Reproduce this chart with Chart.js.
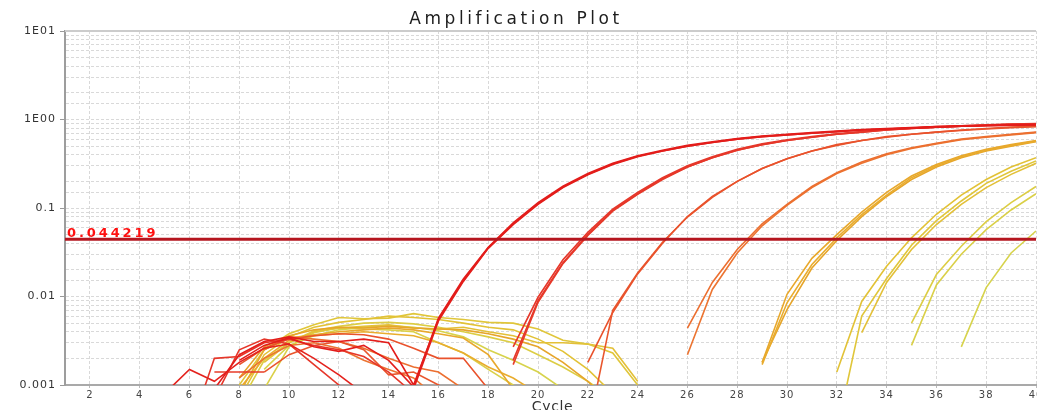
<!DOCTYPE html>
<html>
<head>
<meta charset="utf-8">
<title>Amplification Plot</title>
<script src="https://cdn.jsdelivr.net/npm/chart.js@4.4.1/dist/chart.umd.min.js"></script>
<style>
  html, body { margin: 0; padding: 0; background: #ffffff; }
  #wrap { width: 1037px; height: 410px; position: relative; }
</style>
</head>
<body>
<div id="wrap"><canvas id="ampChart"></canvas></div>
<script>
// Cycle numbers and axis ticks
const cycles = Array.from({ length: 40 }, (_, i) => i + 1)
const xTicks = [2, 4, 6, 8, 10, 12, 14, 16, 18, 20, 22, 24, 26, 28, 30, 32, 34, 36, 38, 40]
const yTickValues = [0.001, 0.01, 0.1, 1, 10]
const yTickLabels = ['0.001', '0.01', '0.1', '1E00', '1E01']
const threshold = 0.044219

// Delta Rn per well, one value per cycle starting at the given cycle (null = negative, not plotted)
const a1 = { start: 7, values: [0.0009, 0.0022, 0.0031, 0.0035, 0.0031, 0.0031, 0.0033, 0.003, 0.001, 0.0055, 0.0152, 0.0355, 0.066, 0.112, 0.172, 0.24, 0.315, 0.385, 0.44, 0.5, 0.55, 0.6, 0.64, 0.67, 0.7, 0.73, 0.76, 0.78, 0.8, 0.82, 0.84, 0.85, 0.86, 0.87] }
const a2 = { start: 8, values: [0.0019, 0.0028, 0.0034, 0.0027, 0.0024, 0.0028, 0.0019, 0.00095, 0.0057, 0.0158, 0.036, 0.068, 0.115, 0.176, 0.245, 0.32, 0.39, 0.45, 0.51, 0.56, 0.61, 0.65, 0.68, 0.71, 0.74, 0.77, 0.79, 0.81, 0.83, 0.85, 0.86, 0.87, 0.88] }
const a3 = { start: 5, values: [0.0008, 0.0015, 0.0011, 0.0018, 0.0026, 0.0029, 0.002, 0.0013, 0.0008, null, 0.0009, 0.0053, 0.0148, 0.035, 0.065, 0.11, 0.17, 0.238, 0.31, 0.38, 0.44, 0.5, 0.55, 0.6, 0.64, 0.67, 0.7, 0.73, 0.76, 0.78, 0.8, 0.82, 0.84, 0.85, 0.86, 0.87] }

const b1 = { start: 6, values: [0.0003, 0.002, 0.0021, 0.003, 0.0033, 0.0028, 0.0025, 0.0021, 0.0014, 0.0008, null, null, null, 0.0027, 0.0098, 0.026, 0.053, 0.097, 0.15, 0.22, 0.3, 0.38, 0.46, 0.53, 0.59, 0.64, 0.69, 0.73, 0.77, 0.8, 0.83, 0.85, 0.87, 0.89, 0.9] }
const b2 = { start: 7, values: [0.0007, 0.0025, 0.0033, 0.0029, 0.0017, 0.001, 0.0004, null, null, null, null, null, 0.0019, 0.009, 0.024, 0.05, 0.094, 0.145, 0.215, 0.29, 0.37, 0.45, 0.52, 0.58, 0.63, 0.68, 0.72, 0.76, 0.79, 0.82, 0.84, 0.86, 0.88, 0.89] }
const b3 = { start: 7, values: [0.0014, 0.0014, 0.0014, null, null, null, null, null, null, null, null, null, 0.0017, 0.0086, 0.0235, 0.049, 0.092, 0.143, 0.21, 0.29, 0.37, 0.45, 0.52, 0.58, 0.63, 0.68, 0.72, 0.76, 0.79, 0.82, 0.84, 0.86, 0.88, 0.89] }

const c1 = { start: 8, values: [0.0017, 0.0026, 0.0033, 0.0036, 0.0038, 0.0037, 0.0033, 0.0026, 0.002, 0.002, 0.0009, null, null, null, 0.0018, 0.0066, 0.018, 0.04, 0.08, 0.135, 0.2, 0.28, 0.36, 0.44, 0.52, 0.58, 0.64, 0.68, 0.72, 0.76, 0.79, 0.82, 0.84] }
const c2 = { start: 9, values: [0.0014, 0.0022, 0.0028, 0.0031, 0.0025, 0.0013, 0.0014, 0.001, 0.0007, null, null, null, null, 0.0003, 0.007, 0.0185, 0.041, 0.079, 0.132, 0.2, 0.28, 0.36, 0.44, 0.51, 0.58, 0.63, 0.68, 0.72, 0.75, 0.78, 0.81, 0.83] }

const d1 = { start: 9, values: [0.0025, 0.0035, 0.0033, 0.0031, 0.0026, 0.002, 0.0016, 0.0014, 0.0009, null, null, null, null, null, null, null, null, 0.0044, 0.0144, 0.034, 0.066, 0.11, 0.175, 0.25, 0.33, 0.41, 0.48, 0.54, 0.6, 0.64, 0.68, 0.72] }
const d2 = { start: 8, values: [0.0012, 0.002, 0.0028, 0.003, 0.0026, 0.0019, 0.0015, 0.0012, 0.0007, null, null, null, null, null, null, null, null, null, 0.0022, 0.012, 0.031, 0.063, 0.107, 0.17, 0.245, 0.32, 0.4, 0.47, 0.53, 0.59, 0.63, 0.67, 0.71] }

const e1 = { start: 8, values: [0.0008, 0.0025, 0.0034, 0.0037, 0.004, 0.0042, 0.0044, 0.0042, 0.0038, 0.0034, 0.0022, 0.0009, null, null, null, null, null, null, null, null, null, 0.0018, 0.0106, 0.027, 0.05, 0.09, 0.15, 0.23, 0.31, 0.39, 0.46, 0.52, 0.58] }
const e2 = { start: 8, values: [0.0009, 0.002, 0.0032, 0.0036, 0.0038, 0.004, 0.0038, 0.0036, 0.003, 0.0023, 0.0016, 0.0012, 0.0008, null, null, null, null, null, null, null, null, 0.0017, 0.0085, 0.023, 0.046, 0.084, 0.14, 0.22, 0.3, 0.38, 0.45, 0.51, 0.57] }
const e3 = { start: 8, values: [0.0012, 0.0027, 0.0036, 0.0042, 0.0045, 0.0044, 0.0046, 0.0044, 0.0043, 0.0042, 0.0038, 0.0033, 0.0027, 0.0018, 0.0011, 0.0006, null, null, null, null, null, 0.0018, 0.0071, 0.021, 0.043, 0.08, 0.135, 0.21, 0.29, 0.37, 0.44, 0.5, 0.56] }

const f1 = { start: 8, values: [0.0007, 0.0022, 0.0035, 0.0045, 0.0051, 0.0055, 0.006, 0.0058, 0.0055, 0.005, 0.0045, 0.0042, 0.0033, 0.0024, 0.0015, 0.0008, null, null, null, null, null, null, null, null, 0.0014, 0.0088, 0.022, 0.046, 0.085, 0.14, 0.21, 0.29, 0.37] }
const f2 = { start: 8, values: [0.001, 0.0025, 0.0038, 0.0048, 0.0058, 0.0056, 0.0057, 0.0064, 0.0058, 0.0055, 0.0051, 0.005, 0.0043, 0.0032, 0.0029, 0.0023, 0.001, null, null, null, null, null, null, null, 0.0003, 0.006, 0.016, 0.038, 0.072, 0.12, 0.19, 0.26, 0.34] }
const f3 = { start: 9, values: [0.0018, 0.003, 0.004, 0.0044, 0.0046, 0.0048, 0.0044, 0.0043, 0.0045, 0.004, 0.0036, 0.003, 0.003, 0.0029, 0.0026, 0.0011, null, null, null, null, null, null, null, null, 0.0039, 0.0144, 0.034, 0.065, 0.11, 0.17, 0.24, 0.32] }

const g1 = { start: 8, values: [0.0006, 0.0019, 0.003, 0.0041, 0.0046, 0.005, 0.0051, 0.0049, 0.0045, 0.004, 0.0035, 0.003, 0.0022, 0.0016, 0.0011, 0.0007, null, null, null, null, null, null, null, null, null, null, null, 0.005, 0.0177, 0.037, 0.07, 0.115, 0.175] }
const g2 = { start: 9, values: [0.0009, 0.0027, 0.0039, 0.0044, 0.0043, 0.0042, 0.004, 0.003, 0.0023, 0.0015, 0.001, 0.0007, null, null, null, null, null, null, null, null, null, null, null, null, null, null, 0.0028, 0.0135, 0.03, 0.057, 0.095, 0.145] }

const h1 = { start: 9, values: [0.0015, 0.0028, 0.0036, 0.0042, 0.0045, 0.0047, 0.0045, 0.0041, 0.0035, 0.0025, 0.0019, 0.0014, 0.0009, null, null, null, null, null, null, null, null, null, null, null, null, null, null, null, 0.0027, 0.0126, 0.031, 0.055] }

// colour per dilution group, red (earliest) to yellow (latest)
const wells = [
  [a1, '#e31d1b'], [a2, '#e31d1b'], [a3, '#e4221d'],
  [b1, '#e6372a'], [b2, '#e6372a'], [b3, '#e73d2a'],
  [c1, '#e9522c'], [c2, '#e9562d'],
  [d1, '#ec6f30'], [d2, '#ec7431'],
  [e1, '#e8a82c'], [e2, '#e9ad2e'], [e3, '#e6a52a'],
  [f1, '#e2c236'], [f2, '#e0c63a'], [f3, '#e3c038'],
  [g1, '#dccd44'], [g2, '#dad048'],
  [h1, '#d7d34c']
]

function toSeries(well) {
  return cycles.map((c) => {
    const i = c - well.start
    return i >= 0 && i < well.values.length ? well.values[i] : null
  })
}

const datasets = [
  {
    label: 'Threshold',
    data: cycles.map(() => threshold),
    borderColor: '#b5161f',
    borderWidth: 3
  }
]
wells.forEach(([well, color]) => {
  datasets.push({
    data: toSeries(well),
    borderColor: color,
    borderWidth: 1.6
  })
})

const isMajor = (v) => yTickValues.some((t) => Math.abs(t - v) / t < 1e-6)

const plotText = {
  id: 'plotText',
  beforeDraw(chart) {
    chart.ctx.letterSpacing = '1px'
  },
  afterDraw(chart) {
    const { ctx, chartArea, scales } = chart
    ctx.save()
    // top frame line
    ctx.strokeStyle = '#cccccc'
    ctx.lineWidth = 2
    ctx.beginPath()
    ctx.moveTo(chartArea.left, chartArea.top)
    ctx.lineTo(chartArea.right, chartArea.top)
    ctx.stroke()

    // threshold value
    const ty = scales.y.getPixelForValue(threshold)
    ctx.fillStyle = '#ff1010'
    ctx.font = 'bold 13px "DejaVu Sans"'
    ctx.letterSpacing = '2.9px'
    ctx.textAlign = 'left'
    ctx.textBaseline = 'alphabetic'
    ctx.fillText(String(threshold), chartArea.left + 2, ty - 2)

    // title
    ctx.fillStyle = '#1e1e1e'
    ctx.font = '17px "DejaVu Sans"'
    ctx.letterSpacing = '3.6px'
    ctx.textAlign = 'center'
    ctx.fillText('Amplification Plot', 516, 24)

    // x axis title
    ctx.fillStyle = '#333333'
    ctx.font = '14px "DejaVu Sans"'
    ctx.letterSpacing = '0.6px'
    ctx.fillText('Cycle', (chartArea.left + chartArea.right) / 2 + 2, 411)
    ctx.restore()
  }
}

const ctx = document.getElementById('ampChart').getContext('2d')
new Chart(ctx, {
  type: 'line',
  data: { labels: cycles, datasets: datasets },
  plugins: [plotText],
  options: {
    responsive: true,
    maintainAspectRatio: false,
    animation: false,
    layout: { padding: { top: 31, right: 1, left: 0, bottom: 0 } },
    elements: {
      point: { radius: 0, hoverRadius: 0 },
      line: { tension: 0 }
    },
    spanGaps: false,
    plugins: {
      legend: { display: false },
      tooltip: { enabled: false },
      title: { display: false }
    },
    scales: {
      x: {
        type: 'linear',
        min: 1,
        max: 40,
        afterBuildTicks: (scale) => {
          scale.ticks = xTicks.map((v) => ({ value: v }))
        },
        afterFit: (scale) => {
          scale.height = 25
          scale.paddingLeft = 0
          scale.paddingRight = 0
        },
        grid: {
          color: '#d9d9d9',
          lineWidth: 1,
          tickLength: 3,
          tickColor: '#bbbbbb'
        },
        border: { color: '#a9a9a9', width: 2, dash: [3, 2] },
        ticks: {
          autoSkip: false,
          maxRotation: 0,
          padding: 1,
          color: '#444444',
          font: { family: 'DejaVu Sans', size: 10 }
        }
      },
      y: {
        type: 'logarithmic',
        min: 0.001,
        max: 10,
        afterFit: (scale) => {
          scale.width = 65
          scale.paddingTop = 0
          scale.paddingBottom = 0
        },
        grid: {
          color: '#d9d9d9',
          lineWidth: 1,
          tickLength: 5,
          tickColor: (c) => (c.tick && isMajor(c.tick.value) ? '#999999' : 'rgba(0,0,0,0)')
        },
        border: { color: '#9d9d9d', width: 2, dash: [3, 2] },
        ticks: {
          autoSkip: false,
          padding: 4,
          color: '#333333',
          font: { family: 'DejaVu Sans', size: 11 },
          callback: function (value) {
            const i = yTickValues.findIndex((t) => Math.abs(t - value) / t < 1e-6)
            return i >= 0 ? yTickLabels[i] : ''
          }
        }
      }
    }
  }
})
</script>
</body>
</html>
